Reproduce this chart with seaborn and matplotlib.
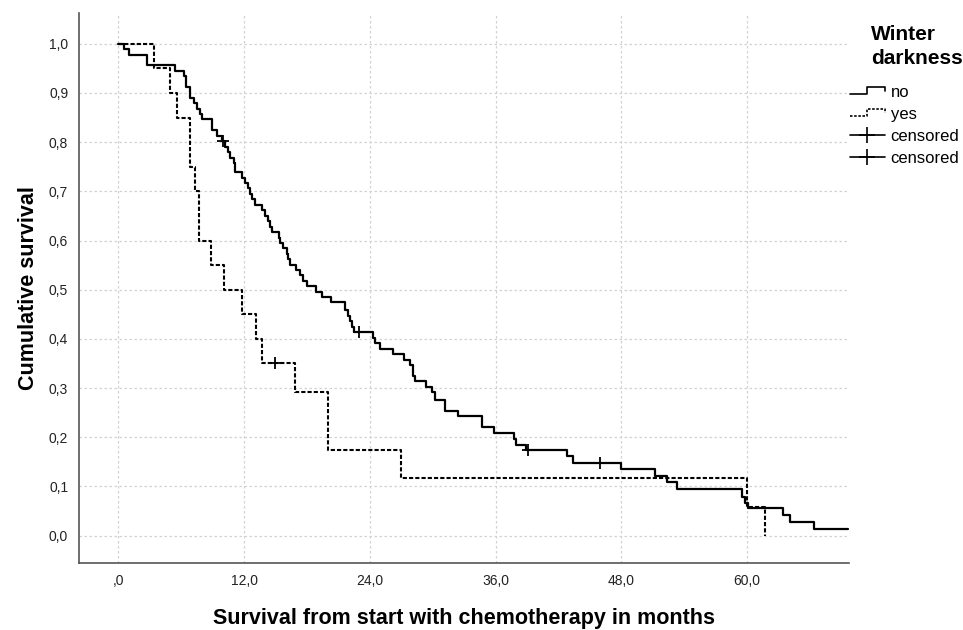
import numpy as np
import pandas as pd
import matplotlib
matplotlib.use("Agg")
import matplotlib.pyplot as plt
import seaborn as sns
from matplotlib.lines import Line2D
from matplotlib.legend_handler import HandlerBase

# Kaplan-Meier steps (months, cumulative survival)
no_months = [0, 0.5, 1.05, 2.75, 5.4, 6.3, 6.5, 6.8, 7.2, 7.5, 7.8, 8.0, 8.9, 9.4,
             9.85, 10.2, 10.5, 10.7, 11.0, 11.15, 11.8, 12.1, 12.4, 12.55, 12.75,
             13.05, 13.7, 14.0, 14.3, 14.5, 14.65, 15.3, 15.45, 15.75, 16.05, 16.2,
             16.4, 17.0, 17.35, 17.65, 18.0, 18.9, 19.4, 20.3, 21.6, 21.95, 22.15,
             22.3, 22.5, 24.3, 24.5, 25.0, 26.2, 27.3, 27.8, 28.15, 28.3, 29.4,
             29.9, 30.2, 31.2, 32.4, 34.7, 35.8, 37.8, 37.95, 38.9, 42.8, 43.4,
             48.0, 51.2, 52.4, 53.3, 59.5, 59.8, 60.1, 63.4, 64.1, 66.4, 69.6]
no_surv = [1.0, 0.989, 0.978, 0.956, 0.945, 0.934, 0.912, 0.890, 0.879, 0.868,
           0.857, 0.846, 0.824, 0.813, 0.802, 0.790, 0.779, 0.768, 0.757, 0.740,
           0.728, 0.717, 0.706, 0.695, 0.684, 0.672, 0.661, 0.650, 0.639, 0.628,
           0.617, 0.606, 0.595, 0.584, 0.573, 0.562, 0.551, 0.540, 0.529, 0.518,
           0.507, 0.496, 0.485, 0.474, 0.458, 0.447, 0.436, 0.425, 0.414, 0.402,
           0.391, 0.380, 0.369, 0.358, 0.347, 0.325, 0.314, 0.303, 0.292, 0.276,
           0.254, 0.243, 0.221, 0.209, 0.197, 0.185, 0.174, 0.161, 0.148, 0.135,
           0.122, 0.109, 0.094, 0.079, 0.067, 0.056, 0.042, 0.028, 0.014, 0.014]
no_censored = [9.95, 23.0, 39.1, 46.0]

yes_months = [0, 3.4, 4.9, 5.6, 6.8, 7.35, 7.7, 8.85, 10.1, 11.8, 13.15, 13.7,
              16.9, 20.0, 27.0, 60.0, 61.7]
yes_surv = [1.0, 0.95, 0.90, 0.85, 0.75, 0.70, 0.60, 0.55, 0.50, 0.45, 0.40,
            0.35, 0.292, 0.175, 0.117, 0.058, 0.0]
yes_censored = [14.95]

x_ticks = [0, 12, 24, 36, 48, 60]
x_ticklabels = [",0", "12,0", "24,0", "36,0", "48,0", "60,0"]
y_ticks = [0.0, 0.1, 0.2, 0.3, 0.4, 0.5, 0.6, 0.7, 0.8, 0.9, 1.0]
y_ticklabels = ["0,0", "0,1", "0,2", "0,3", "0,4", "0,5", "0,6", "0,7", "0,8", "0,9", "1,0"]


def surv_at(t, months, surv):
    i = np.searchsorted(months, t, side="right") - 1
    return surv[i]


df_no = pd.DataFrame({"months": no_months, "surv": no_surv})
df_yes = pd.DataFrame({"months": yes_months, "surv": yes_surv})
df_cens = pd.DataFrame({
    "months": no_censored + yes_censored,
    "surv": [surv_at(t, no_months, no_surv) for t in no_censored]
            + [surv_at(t, yes_months, yes_surv) for t in yes_censored]})

sns.set_style("white")
plt.rcParams.update({"font.family": ["Liberation Sans", "DejaVu Sans"],
                     "font.size": 10, "text.color": "black",
                     "axes.labelcolor": "black"})

fig = plt.figure(figsize=(9.63, 6.3), dpi=100)
ax = fig.add_axes([0.0824, 0.106, 0.7992, 0.873])

yes_dash = (0, (2, 1))
sns.lineplot(data=df_no, x="months", y="surv", drawstyle="steps-post",
             color="black", lw=1.6, estimator=None, ax=ax)
sns.lineplot(data=df_yes, x="months", y="surv", drawstyle="steps-post",
             color="black", lw=1.5, linestyle=yes_dash, estimator=None, ax=ax)
sns.scatterplot(data=df_cens, x="months", y="surv", marker="+", s=80,
                color="black", linewidth=1.3, ax=ax, zorder=5)

ax.set_xlim(-3.72, 69.72)
ax.set_ylim(-0.056, 1.062)
ax.set_xticks(x_ticks)
ax.set_xticklabels(x_ticklabels)
ax.set_yticks(y_ticks)
ax.set_yticklabels(y_ticklabels)
ax.tick_params(length=0, pad=8, labelsize=10, colors="#222222")
ax.grid(True, color="#d2d2d2", linestyle=(0, (2, 2)), lw=0.9)
for s in ["top", "right"]:
    ax.spines[s].set_visible(False)
for s in ["left", "bottom"]:
    ax.spines[s].set_color("#555555")
    ax.spines[s].set_linewidth(1.2)

ax.set_xlabel("Survival from start with chemotherapy in months",
              fontsize=15.5, fontweight="bold", labelpad=14)
ax.set_ylabel("Cumulative survival", fontsize=15.5, fontweight="bold", labelpad=7)


class StepHandler(HandlerBase):
    def __init__(self, ls):
        super().__init__()
        self.ls = ls

    def create_artists(self, legend, orig_handle, xdescent, ydescent,
                       width, height, fontsize, trans):
        x0, y0 = -xdescent, -ydescent
        xs = [x0, x0 + 0.5 * width, x0 + 0.5 * width, x0 + width, x0 + width]
        ys = [y0 + 0.25 * height, y0 + 0.25 * height, y0 + 0.9 * height,
              y0 + 0.9 * height, y0 + 0.5 * height]
        line = Line2D(xs, ys, color="black", lw=1.2, linestyle=self.ls)
        line.set_transform(trans)
        return [line]


fig.text(871 / 963, 1 - 25 / 630, "Winter\ndarkness", fontsize=15,
         fontweight="bold", va="top", ha="left", linespacing=1.3)

h_no = Line2D([], [], color="black")
h_yes = Line2D([], [], color="black")
h_c1 = Line2D([], [], color="black", lw=1.2, marker="+", markersize=11, mew=1.2)
h_c2 = Line2D([], [], color="black", lw=1.2, marker="+", markersize=11, mew=1.2)
leg = fig.legend([h_no, h_yes, h_c1, h_c2], ["no", "yes", "censored", "censored"],
                 handler_map={h_no: StepHandler("-"), h_yes: StepHandler((0, (1.5, 1)))},
                 loc="upper left", bbox_to_anchor=(846.5 / 963, 1 - 82 / 630),
                 frameon=False, fontsize=12, handlelength=2.1, handletextpad=0.35,
                 labelspacing=0.42, borderpad=0.2, borderaxespad=0)

plt.savefig("out.png", dpi=100)
plt.close()
